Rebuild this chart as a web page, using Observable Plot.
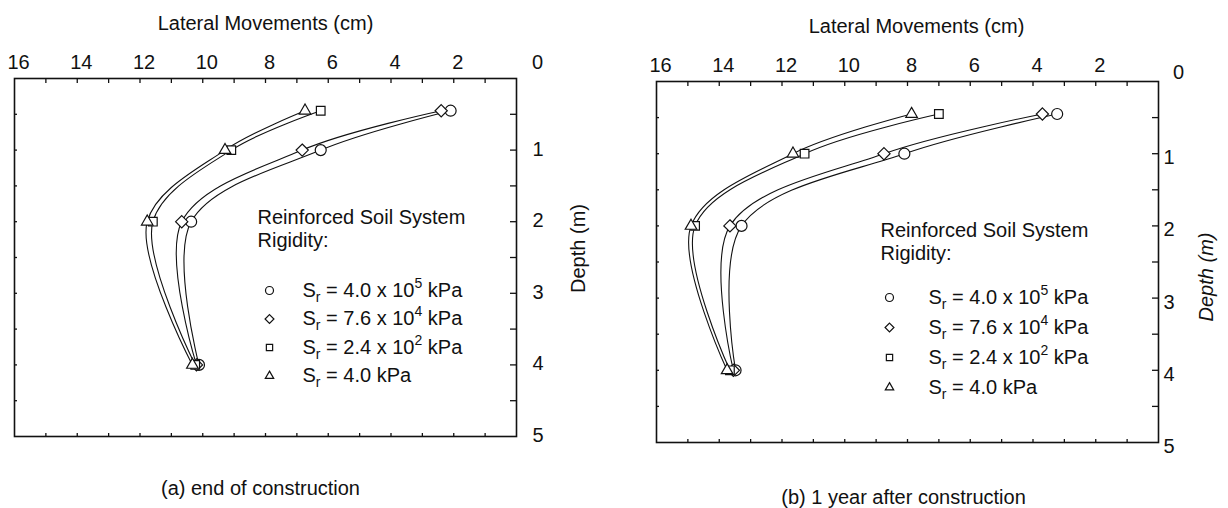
<!DOCTYPE html>
<html><head><meta charset="utf-8">
<script src="https://cdn.jsdelivr.net/npm/d3@7"></script>
<script src="https://cdn.jsdelivr.net/npm/@observablehq/plot@0.6"></script>
<style>
html,body{margin:0;padding:0;background:#fff;}
#wrap{display:flex;width:1228px;height:508px;overflow:hidden;}
</style></head><body><div id="wrap"></div>
<script>
// ---- data ----
const depths = [0.45, 1, 2, 4];
const legendLabels = ["S_r = 4.0 x 10^5 kPa", "S_r = 7.6 x 10^4 kPa", "S_r = 2.4 x 10^2 kPa", "S_r = 4.0 kPa"];
const symbolNames = ["circle", "diamond2", "square2", "triangle2"];
// (a) end of construction: lateral movement (cm) at each depth
const endCircle   = [2.10, 6.24, 10.37, 10.12];
const endDiamond  = [2.40, 6.83, 10.67, 10.20];
const endSquare   = [6.24, 9.09, 11.59, 10.24];
const endTriangle = [6.74, 9.29, 11.77, 10.33];
// (b) 1 year after construction
const yearCircle   = [3.23, 8.10, 13.29, 13.48];
const yearDiamond  = [3.70, 8.75, 13.66, 13.55];
const yearSquare   = [7.00, 11.28, 14.77, 13.66];
const yearTriangle = [7.87, 11.65, 14.90, 13.75];
// ticks
const xTickLabels = [16, 14, 12, 10, 8, 6, 4, 2];
const cornerLabel = ["0"];
const depthTickLabels = [1, 2, 3, 4, 5];
const xMinorTicks = [1, 2, 3, 4, 5, 6, 7, 8, 9, 10, 11, 12, 13, 14, 15];
const depthMinorTicks = [0.5, 1, 1.5, 2, 2.5, 3, 3.5, 4, 4.5];
const xTitle = "Lateral Movements (cm)";
const yTitle = "Depth (m)";
const legendTitle = ["Reinforced Soil System", "Rigidity:"];
const captions = ["(a) end of construction", "(b) 1 year after construction"];

function tidy(seriesArrays) {
  const rows = [];
  seriesArrays.forEach((vals, s) => vals.forEach((v, i) => rows.push({series: legendLabels[s], x: v, depth: depths[i]})));
  return rows;
}

const FONT = '"Liberation Sans", Arial, Helvetica, sans-serif';
const INK = "#111";

function panel(seriesArrays, cfg) {
  const W = 614, H = 508;
  const fw = W - cfg.ml - cfg.mr, fh = H - cfg.mt - cfg.mb;
  const rows = tidy(seriesArrays);
  const T = {x: null, y: null, text: d => d, fontSize: 20, fill: INK, lineAnchor: "middle"};
  const marks = [
    Plot.frame({stroke: INK, strokeWidth: 1.6}),
    Plot.ruleX(xMinorTicks, {x: d => d, insetBottom: fh - 5, stroke: INK, strokeWidth: 1.3}),
    Plot.ruleX(xMinorTicks, {x: d => d, insetTop: fh - 3, stroke: INK, strokeWidth: 1.3}),
    Plot.ruleY(depthMinorTicks, {y: d => d, insetRight: fw - 3, stroke: INK, strokeWidth: 1.3}),
    Plot.ruleY(depthMinorTicks, {y: d => d, insetLeft: fw - 6, stroke: INK, strokeWidth: 1.3}),
    Plot.axisX({anchor: "top", ticks: xTickLabels, tickFormat: d3.format("d"), tickSize: 0, tickPadding: cfg.xPad, dx: 4, fontSize: 20, label: null, fill: INK}),
    Plot.axisY({anchor: "right", ticks: depthTickLabels, tickFormat: d3.format("d"), tickSize: 0, tickPadding: cfg.yPad, dy: cfg.yDy, fontSize: 20, label: null, fill: INK}),
    Plot.text(cornerLabel, {...T, frameAnchor: "top-right", textAnchor: "middle", dx: cfg.zeroDx, dy: cfg.zeroDy}),
    Plot.text([xTitle], {...T, frameAnchor: "top", textAnchor: "middle", dx: cfg.titleDx, dy: -55}),
    Plot.text([yTitle], {...T, frameAnchor: "right", textAnchor: "middle", dx: cfg.yTitleDx, dy: cfg.yTitleDy, rotate: -90, fontStyle: cfg.yTitleStyle}),
    Plot.text([cfg.caption], {...T, frameAnchor: "bottom", textAnchor: "middle", dx: cfg.capDx, dy: cfg.capDy}),
    Plot.line(rows, {x: "x", y: "depth", z: "series", curve: "catmull-rom", stroke: INK, strokeWidth: 1.1}),
    Plot.dot(rows, {x: "x", y: "depth", symbol: "series", r: 5.5, fill: "white", stroke: INK, strokeWidth: 1.2}),
    Plot.text([legendTitle[0]], {...T, frameAnchor: "top-left", textAnchor: "start", dx: cfg.legHeadX, dy: cfg.legHeadY}),
    Plot.text([legendTitle[1]], {...T, frameAnchor: "top-left", textAnchor: "start", dx: cfg.legHeadX, dy: cfg.legHeadY + 23})
  ];
  legendLabels.forEach((lab, i) => {
    marks.push(Plot.dot([lab], {x: null, y: null, frameAnchor: "top-left", dx: cfg.legSymX, dy: cfg.legY0 + i * cfg.legStep, symbol: symbolNames[i], r: 4, fill: "white", stroke: INK, strokeWidth: 1.2}));
    marks.push(Plot.text([lab], {...T, frameAnchor: "top-left", textAnchor: "start", dx: cfg.legTextX, dy: cfg.legY0 + i * cfg.legStep}));
  });
  const svg = Plot.plot({
    width: W, height: H,
    marginLeft: cfg.ml, marginRight: cfg.mr, marginTop: cfg.mt, marginBottom: cfg.mb,
    style: {fontFamily: FONT, fontSize: "20px", color: INK, background: "white", overflow: "visible"},
    x: {domain: [16, 0]},
    y: {domain: [0, 5], reverse: true},
    symbol: {domain: legendLabels, range: symbolNames},
    marks
  });
  // subscripts / superscripts in legend entries
  d3.select(svg).selectAll("text").filter(function() { return /[_^]/.test(this.textContent) && this.childElementCount === 0; }).each(function() {
    const s = this.textContent;
    const el = d3.select(this);
    el.text("");
    const parts = s.split(/([_^][0-9a-z]+)/).filter(p => p);
    let shift = 0;
    for (const p of parts) {
      let txt = p, ns = 0, small = false;
      if (p[0] === "_") { txt = p.slice(1); ns = 5; small = true; }
      else if (p[0] === "^") { txt = p.slice(1); ns = -9; small = true; }
      const t = el.append("tspan").text(txt).attr("dy", ns - shift);
      if (small) t.attr("font-size", 14);
      shift = ns;
    }
  });
  return svg;
}

const wrap = document.getElementById("wrap");
wrap.appendChild(panel([endCircle, endDiamond, endSquare, endTriangle], {
  ml: 14, mr: 98, mt: 78, mb: 72,
  xPad: 10, yPad: 16, yDy: -1, zeroDx: 21, zeroDy: -16,
  titleDx: 0, yTitleDx: 62, yTitleDy: -9, yTitleStyle: "normal",
  capDx: -5, capDy: 52,
  legHeadX: 243, legHeadY: 139, legSymX: 255, legTextX: 288, legY0: 212, legStep: 28.5,
  caption: captions[0]
}));
wrap.appendChild(panel([yearCircle, yearDiamond, yearSquare, yearTriangle], {
  ml: 42, mr: 70, mt: 81, mb: 66,
  xPad: 10, yPad: 5, yDy: 4, zeroDx: 20, zeroDy: -9,
  titleDx: 9, yTitleDx: 48, yTitleDy: 15, yTitleStyle: "italic",
  capDx: -4, capDy: 55,
  legHeadX: 224, legHeadY: 149, legSymX: 233, legTextX: 272, legY0: 216, legStep: 30,
  caption: captions[1]
}));
</script></body></html>
